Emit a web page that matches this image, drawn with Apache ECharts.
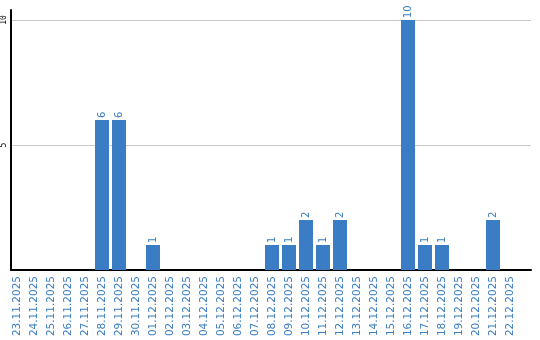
<!DOCTYPE html>
<html><head><meta charset="utf-8">
<script src="https://cdn.jsdelivr.net/npm/echarts@6/dist/echarts.min.js"></script>
<style>html,body{margin:0;padding:0;background:#fff}#c{width:540px;height:340px}</style>
</head><body><div id="c"></div>
<script>
const categories = ['23.11.2025','24.11.2025','25.11.2025','26.11.2025','27.11.2025','28.11.2025','29.11.2025','30.11.2025','01.12.2025','02.12.2025','03.12.2025','04.12.2025','05.12.2025','06.12.2025','07.12.2025','08.12.2025','09.12.2025','10.12.2025','11.12.2025','12.12.2025','13.12.2025','14.12.2025','15.12.2025','16.12.2025','17.12.2025','18.12.2025','19.12.2025','20.12.2025','21.12.2025','22.12.2025'];
const values = [0,0,0,0,0,6,6,0,1,0,0,0,0,0,0,1,1,2,1,2,0,0,0,10,1,1,0,0,2,0];
const yTicks = [5,10];
const blue = '#3b7dc4';
const chart = echarts.init(document.getElementById('c'), null, {renderer:'canvas'});
chart.setOption({
  animation:false,
  grid:[
    {left:8.5, width:510, top:20, bottom:70},
    {left:10, right:9, top:10, bottom:70}
  ],
  xAxis:[
    {type:'category', gridIndex:0, data:categories, axisLine:{show:false}, axisTick:{show:false},
     axisLabel:{rotate:90, interval:0, color:blue, fontFamily:'DejaVu Sans', fontSize:10.5, margin:6}},
    {type:'value', gridIndex:1, min:0, max:1, axisLine:{show:true, lineStyle:{color:'#000', width:2}},
     axisTick:{show:false}, axisLabel:{show:false}, splitLine:{show:false}}
  ],
  yAxis:[
    {type:'value', gridIndex:0, min:0, max:10, show:false},
    {type:'value', gridIndex:1, min:0, max:10.4, interval:5,
     axisLine:{show:true, lineStyle:{color:'#000', width:2}}, axisTick:{show:false},
     splitLine:{show:true, showMaxLine:false, showMinLine:false, lineStyle:{color:'#c8c8c8', width:1}},
     axisLabel:{rotate:90, margin:3, color:'#000', fontFamily:'DejaVu Sans Mono', fontSize:8,
       formatter:v=> yTicks.includes(v)? String(v):''}}
  ],
  series:[{
    type:'bar', xAxisIndex:0, yAxisIndex:0, data:values.map(v=>v===0?null:v), barWidth:14,
    itemStyle:{color:blue},
    label:{show:true, position:'top', rotate:90, align:'left', verticalAlign:'middle', distance:2,
      color:blue, fontFamily:'DejaVu Sans', fontSize:10}
  }]
});
</script></body></html>
